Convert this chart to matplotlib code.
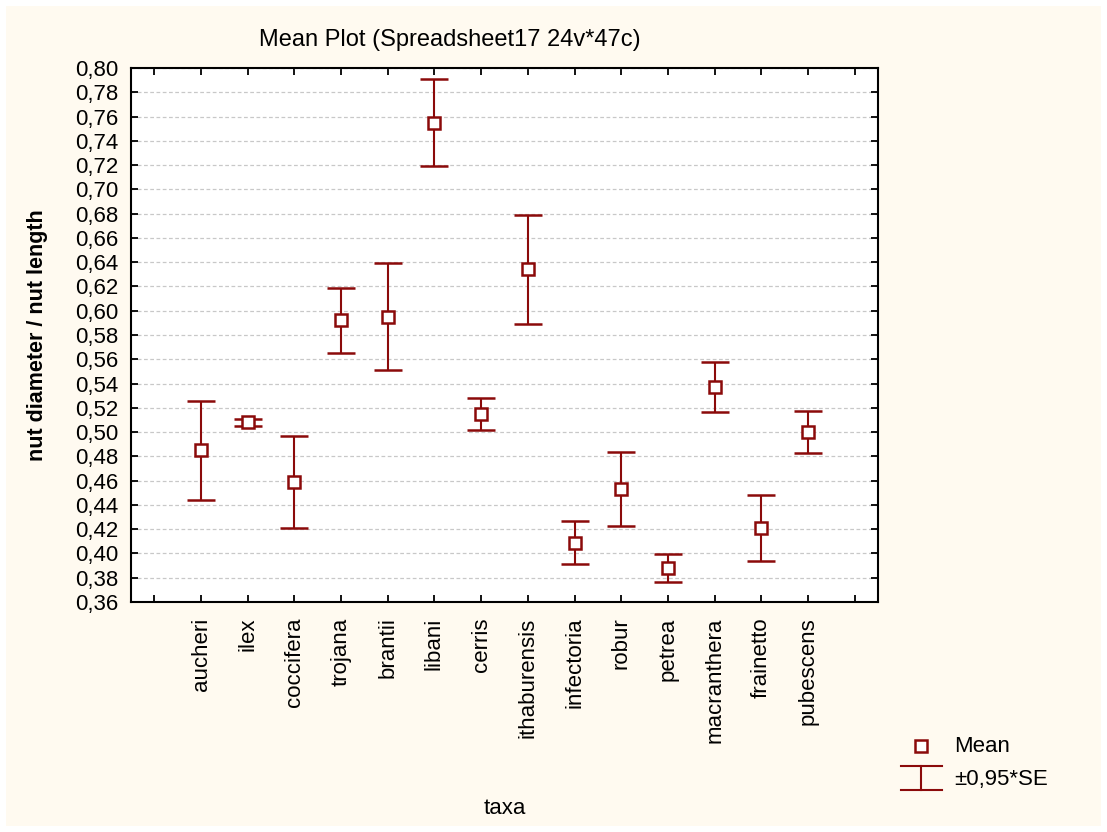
import matplotlib.pyplot as plt
import numpy as np
from matplotlib.lines import Line2D
from matplotlib.patches import Rectangle

plt.rcParams['font.family'] = ['Liberation Sans', 'DejaVu Sans']

taxa = ['aucheri', 'ilex', 'coccifera', 'trojana', 'brantii', 'libani', 'cerris',
        'ithaburensis', 'infectoria', 'robur', 'petrea', 'macranthera',
        'frainetto', 'pubescens']
means = [0.485, 0.508, 0.459, 0.592, 0.595, 0.755, 0.515,
         0.634, 0.409, 0.453, 0.388, 0.537, 0.421, 0.500]
se95 = [0.041, 0.003, 0.038, 0.027, 0.044, 0.036, 0.0135,
        0.045, 0.018, 0.0305, 0.0115, 0.0205, 0.027, 0.017]
yticks = np.arange(0.36, 0.801, 0.02)

red = '#8b0a0a'
bg = '#fffaf0'

W, H = 1107, 832
fig = plt.figure(figsize=(W / 100, H / 100), dpi=100, facecolor='white')
fig.add_artist(Rectangle((6 / W, 6 / H), 1 - 12 / W, 1 - 12 / H,
                         transform=fig.transFigure, facecolor=bg,
                         edgecolor='none', zorder=-10))

ax = fig.add_axes([131 / W, 1 - 602 / H, (878 - 131) / W, (602 - 68) / H])
x = np.arange(1, len(taxa) + 1)
ax.errorbar(x, means, yerr=se95, fmt='s', color=red, ecolor=red,
            elinewidth=1.5, capsize=10, capthick=1.5,
            markersize=8, markerfacecolor='white', markeredgecolor=red,
            markeredgewidth=1.8, zorder=3)

ax.set_xlim(-0.5, len(taxa) + 1.5)
ax.set_ylim(0.36, 0.80)
ax.set_xticks(np.arange(0, len(taxa) + 2))
ax.set_xticklabels([''] + taxa + [''], rotation=90, fontsize=16)
ax.set_yticks(yticks)
ax.set_yticklabels([f'{v:.2f}'.replace('.', ',') for v in yticks], fontsize=16)
ax.tick_params(direction='in', length=5, width=1.3, top=True, right=True)
ax.tick_params(axis='y', pad=9)
ax.tick_params(axis='x', pad=11)
ax.yaxis.grid(True, linestyle=(0, (3, 2)), color='#c8c8c8', linewidth=0.9)
ax.set_axisbelow(True)
for s in ax.spines.values():
    s.set_linewidth(1.5)

ax.set_ylabel('nut diameter / nut length', fontsize=15.5, fontweight='bold')
ax.yaxis.set_label_coords(-0.111, 0.5)
fig.text(505 / W, 1 - 808 / H, 'taxa', fontsize=16, ha='center', va='center')
fig.text(450 / W, 1 - 40 / H, 'Mean Plot (Spreadsheet17 24v*47c)', fontsize=17,
         ha='center', va='center')

# legend
def fx(px):
    return px / W

def fy(py):
    return 1 - py / H

fig.add_artist(Line2D([fx(921)], [fy(746)], marker='s', markersize=8,
                      markerfacecolor='white', markeredgecolor=red,
                      markeredgewidth=1.8, transform=fig.transFigure))
for yy in (766, 790):
    fig.add_artist(Line2D([fx(901), fx(942)], [fy(yy), fy(yy)], color=red,
                          linewidth=1.5, transform=fig.transFigure))
fig.add_artist(Line2D([fx(921), fx(921)], [fy(766), fy(790)], color=red,
                      linewidth=1.5, transform=fig.transFigure))
fig.text(fx(954), fy(747), 'Mean', fontsize=16, va='center')
fig.text(fx(954), fy(779), '±0,95*SE', fontsize=16, va='center')

fig.savefig('out.png', dpi=100, facecolor=fig.get_facecolor())
